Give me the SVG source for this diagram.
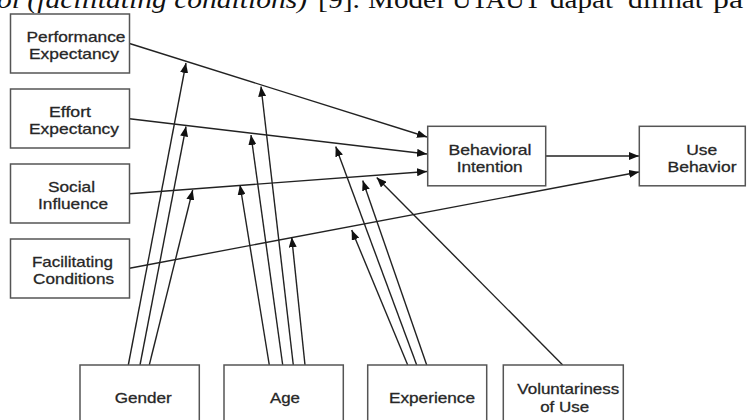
<svg xmlns="http://www.w3.org/2000/svg" width="748" height="420" viewBox="0 0 748 420">
  <style>
    .box { fill: #fff; stroke: #555; stroke-width: 1.5; }
    .lbl { font-family: "Liberation Sans", Arial, sans-serif; font-size: 14.5px; fill: #222; stroke: #333; stroke-width: 0.3; text-anchor: middle; }
    .conn line { stroke: #222; stroke-width: 1.4; fill: none; marker-end: url(#arrow); }
    .body { font-family: "Liberation Serif", "Times New Roman", serif; font-size: 25px; fill: #111; }
  </style>
  <defs>
    <marker id="arrow" viewBox="0 0 10 8" refX="10" refY="4" markerWidth="10" markerHeight="8" markerUnits="userSpaceOnUse" orient="auto">
      <path d="M0,0 L10,4 L0,8 z" fill="#111"/>
    </marker>
  </defs>

  <rect width="748" height="420" fill="#fff"/>

  <!-- running text line above the figure -->
  <g id="caption-line" class="body">
    <text x="-3" y="7.5" font-style="italic" textLength="310" lengthAdjust="spacingAndGlyphs">ol (facilitating conditions)</text>
    <text x="318" y="7.5" textLength="42" lengthAdjust="spacingAndGlyphs">[9].</text>
    <text x="368" y="7.5" textLength="76" lengthAdjust="spacingAndGlyphs">Model</text>
    <text x="452" y="7.5" textLength="89" lengthAdjust="spacingAndGlyphs">UTAUT</text>
    <text x="550" y="7.5" textLength="63" lengthAdjust="spacingAndGlyphs">dapat</text>
    <text x="628" y="7.5" textLength="75" lengthAdjust="spacingAndGlyphs">dilihat</text>
    <text x="713" y="7.5" textLength="30" lengthAdjust="spacingAndGlyphs">pa</text>
  </g>

  <!-- connectors -->
  <g id="connectors" class="conn">
    <!-- determinants to intention / use -->
    <line x1="129.5" y1="43.5" x2="427" y2="137"/>
    <line x1="129.5" y1="118.7" x2="427" y2="154"/>
    <line x1="129.5" y1="193.7" x2="427" y2="171.5"/>
    <line x1="129.5" y1="268.3" x2="639" y2="172"/>
    <line x1="545.7" y1="156" x2="639" y2="156"/>
    <!-- gender moderation -->
    <line x1="128.3" y1="365" x2="186" y2="63"/>
    <line x1="140" y1="365" x2="186" y2="126.5"/>
    <line x1="149.3" y1="365" x2="192.7" y2="190"/>
    <!-- age moderation -->
    <line x1="269.3" y1="365" x2="240" y2="185"/>
    <line x1="282.7" y1="365" x2="251" y2="135"/>
    <line x1="293.3" y1="365" x2="261" y2="86.5"/>
    <line x1="305" y1="365" x2="291.7" y2="237.3"/>
    <!-- experience moderation -->
    <line x1="407.7" y1="365" x2="351.7" y2="230"/>
    <line x1="416.7" y1="365" x2="335.7" y2="146.5"/>
    <line x1="426.7" y1="365" x2="362.7" y2="180.5"/>
    <!-- voluntariness moderation -->
    <line x1="562.7" y1="365" x2="376.7" y2="177.5"/>
  </g>

  <g id="performance-expectancy">
    <rect class="box" x="10.5" y="14" width="119" height="59"/>
    <text class="lbl" x="76" y="42" textLength="99" lengthAdjust="spacingAndGlyphs">Performance</text>
    <text class="lbl" x="74" y="58.5" textLength="90" lengthAdjust="spacingAndGlyphs">Expectancy</text>
  </g>
  <g id="effort-expectancy">
    <rect class="box" x="10.5" y="89" width="119" height="59"/>
    <text class="lbl" x="70" y="117" textLength="42" lengthAdjust="spacingAndGlyphs">Effort</text>
    <text class="lbl" x="74" y="134" textLength="90" lengthAdjust="spacingAndGlyphs">Expectancy</text>
  </g>
  <g id="social-influence">
    <rect class="box" x="10.5" y="164" width="119" height="59"/>
    <text class="lbl" x="71.5" y="192" textLength="47" lengthAdjust="spacingAndGlyphs">Social</text>
    <text class="lbl" x="73" y="209" textLength="70" lengthAdjust="spacingAndGlyphs">Influence</text>
  </g>
  <g id="facilitating-conditions">
    <rect class="box" x="10.5" y="239" width="119" height="59"/>
    <text class="lbl" x="72.5" y="267" textLength="81" lengthAdjust="spacingAndGlyphs">Facilitating</text>
    <text class="lbl" x="73.5" y="284" textLength="81" lengthAdjust="spacingAndGlyphs">Conditions</text>
  </g>
  <g id="behavioral-intention">
    <rect class="box" x="427.7" y="126.3" width="118" height="59.5"/>
    <text class="lbl" x="490" y="155" textLength="83" lengthAdjust="spacingAndGlyphs">Behavioral</text>
    <text class="lbl" x="489.7" y="172" textLength="66" lengthAdjust="spacingAndGlyphs">Intention</text>
  </g>
  <g id="use-behavior">
    <rect class="box" x="639.3" y="126.3" width="106" height="59.5"/>
    <text class="lbl" x="701.7" y="154.5" textLength="31" lengthAdjust="spacingAndGlyphs">Use</text>
    <text class="lbl" x="702" y="171.5" textLength="69" lengthAdjust="spacingAndGlyphs">Behavior</text>
  </g>
  <g id="gender">
    <rect class="box" x="80" y="365" width="119.3" height="70"/>
    <text class="lbl" x="143.3" y="402.5" textLength="57" lengthAdjust="spacingAndGlyphs">Gender</text>
  </g>
  <g id="age">
    <rect class="box" x="224" y="365" width="119.3" height="70"/>
    <text class="lbl" x="285" y="402.5" textLength="30" lengthAdjust="spacingAndGlyphs">Age</text>
  </g>
  <g id="experience">
    <rect class="box" x="367.7" y="365" width="119" height="70"/>
    <text class="lbl" x="432" y="402.5" textLength="86" lengthAdjust="spacingAndGlyphs">Experience</text>
  </g>
  <g id="voluntariness-of-use">
    <rect class="box" x="503.3" y="365" width="120" height="70"/>
    <text class="lbl" x="568.3" y="393.5" textLength="102" lengthAdjust="spacingAndGlyphs">Voluntariness</text>
    <text class="lbl" x="564.7" y="411.5" textLength="49" lengthAdjust="spacingAndGlyphs">of Use</text>
  </g>
</svg>
